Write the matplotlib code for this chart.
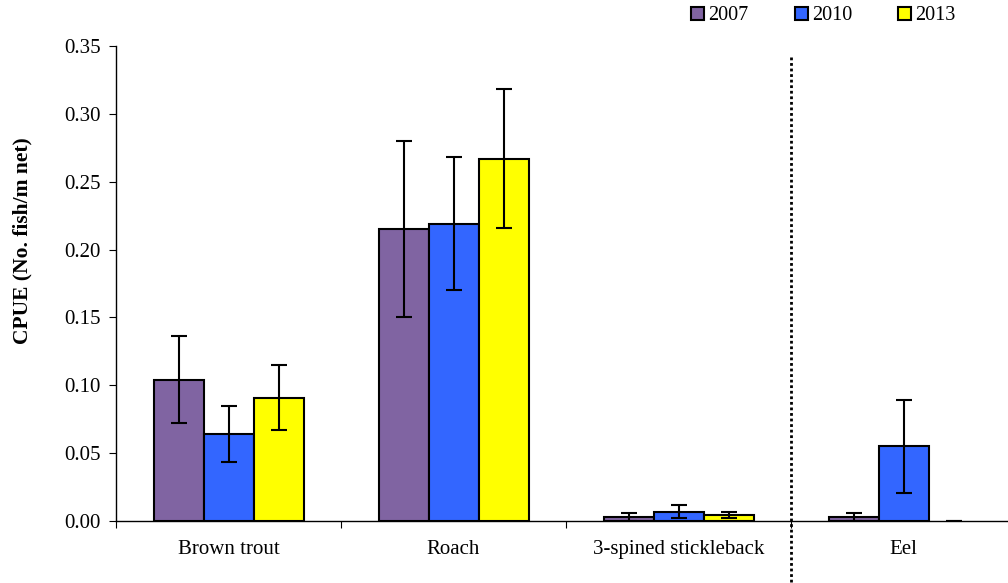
import matplotlib.pyplot as plt
from matplotlib.patches import Patch
import numpy as np

plt.rcParams['font.family'] = ['Liberation Serif', 'DejaVu Serif']

species = ['Brown trout', 'Roach', '3-spined stickleback', 'Eel']
years = ['2007', '2010', '2013']
colors = ['#8064A2', '#3366FF', '#FFFF00']

cpue_2007 = [0.104, 0.215, 0.003, 0.003]
cpue_2010 = [0.064, 0.219, 0.007, 0.055]
cpue_2013 = [0.091, 0.267, 0.0044, 0.0]
err_2007 = [0.032, 0.065, 0.0027, 0.0027]
err_2010 = [0.0205, 0.049, 0.0048, 0.034]
err_2013 = [0.024, 0.051, 0.0025, 0.0]

values = [cpue_2007, cpue_2010, cpue_2013]
errors = [err_2007, err_2010, err_2013]

fig = plt.figure(figsize=(10.08, 5.83), dpi=100)
# axes runs slightly past the right edge like in the original
ax = fig.add_axes([116 / 1008, 62 / 583, 900 / 1008, 475 / 583])

x = np.arange(len(species))
w = 50 / 225
for i, (vals, errs) in enumerate(zip(values, errors)):
    pos = x + (i - 1) * w
    bars = ax.bar(pos, vals, width=w, color=colors[i], edgecolor='black', linewidth=1.5, zorder=2)
    for b, v in zip(bars, vals):
        if v == 0:
            b.set_linewidth(0)  # empty bar: no outline, just the cap
    ax.errorbar(pos, vals, yerr=errs, fmt='none', ecolor='black', elinewidth=1.5,
                capsize=6, capthick=1.5, zorder=3)

ax.set_xlim(-0.5, 3.5)
ax.set_ylim(0, 0.35)
ax.set_yticks(np.arange(0, 0.351, 0.05))
ax.set_yticklabels([f'{v:.2f}' for v in np.arange(0, 0.351, 0.05)])
ax.set_xticks([-0.5, 0.5, 1.5, 2.5])
ax.set_xticklabels([])
ax.set_xticks(x, minor=True)
ax.set_xticklabels(species, minor=True)
ax.tick_params(axis='x', which='minor', length=0, pad=14, labelsize=15)
ax.tick_params(axis='x', which='major', length=5, direction='out')
ax.tick_params(axis='y', length=5, direction='out', labelsize=15, pad=6)

for s in ['top', 'right']:
    ax.spines[s].set_visible(False)
ax.spines['left'].set_linewidth(1)
ax.spines['bottom'].set_linewidth(1)

ax.set_ylabel('CPUE (No. fish/m net)', fontsize=15.5, fontweight='bold')
ax.yaxis.set_label_coords(-0.093, 0.59)

# dotted separator before Eel
ax.plot([2.5, 2.5], [0.342, -0.046], color='black', linestyle=(0, (1, 1)),
        linewidth=2, clip_on=False, zorder=4)

handles = [Patch(facecolor=c, edgecolor='black', linewidth=1.5) for c in colors]
fig.legend(handles, years, loc='center left', bbox_to_anchor=(691 / 1008, 1 - 16 / 583),
           ncol=3, frameon=False, fontsize=14.5, handlelength=0.65, handleheight=0.65,
           handletextpad=0.2, columnspacing=2.3, borderpad=0, borderaxespad=0)

fig.savefig('out.png', dpi=100)
